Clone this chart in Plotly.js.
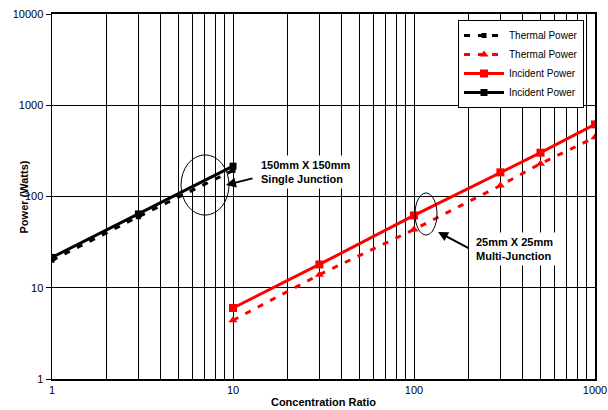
<!DOCTYPE html>
<html>
<head>
<meta charset="utf-8">
<script src="https://cdn.plot.ly/plotly-3.0.1.min.js"></script>
<style>html,body{margin:0;padding:0;background:#fff;}#chart{width:608px;height:410px;}</style>
</head>
<body>
<div id="chart"></div>
<script>
// Data
const blackX = [1, 3, 10];
const blackIncident = [21.5, 64.5, 215];
const blackThermal = [20, 60, 193];
const redX = [10, 30, 100, 300, 500, 1000];
const redIncident = [6, 18, 62, 184, 302, 617];
const redThermal = [4.4, 13.9, 43.5, 132, 229, 445];
const xTickVals = [1, 10, 100, 1000];
const xTickText = ['1', '10', '100', '1000'];
const yTickVals = [1, 10, 100, 1000, 10000];
const yTickText = ['1', '10', '100', '1000', '10000'];

const minorX = [];
for (let d = 1; d < 1000; d *= 10) for (let k = 2; k <= 9; k++) minorX.push(k * d);

const FONT = 'Arial, "Liberation Sans", sans-serif';

const traces = [
  {x: blackX, y: blackThermal, name: 'Thermal Power', mode: 'lines+markers',
   line: {color: '#000', width: 3, dash: '6px,8px'},
   marker: {symbol: 'square', size: 5, color: '#000'}},
  {x: redX, y: redThermal, name: 'Thermal Power', mode: 'lines+markers',
   line: {color: '#ff0000', width: 3, dash: '6px,8px'},
   marker: {symbol: 'triangle-up', size: 8, color: '#ff0000'}},
  {x: redX, y: redIncident, name: 'Incident Power', mode: 'lines+markers',
   line: {color: '#ff0000', width: 3},
   marker: {symbol: 'square', size: 8, color: '#ff0000'}},
  {x: blackX, y: blackIncident, name: 'Incident Power', mode: 'lines+markers',
   line: {color: '#000', width: 3},
   marker: {symbol: 'square', size: 7, color: '#000'}}
];

const layout = {
  width: 608, height: 410,
  margin: {l: 52, r: 13, t: 14, b: 31},
  paper_bgcolor: '#fff', plot_bgcolor: '#fff',
  font: {family: FONT, size: 11, color: '#000'},
  showlegend: true,
  legend: {x: 0.7477, y: 0.9836, xanchor: 'left', yanchor: 'top',
    bgcolor: '#fff', bordercolor: '#000', borderwidth: 1, itemwidth: 40,
    font: {family: FONT, size: 10, color: '#000'}, tracegroupgap: 0},
  xaxis: {type: 'log', range: [0, 3], tickmode: 'array', tickvals: xTickVals, ticktext: xTickText,
    showgrid: true, gridcolor: '#000', gridwidth: 1,
    minor: {tickmode: 'array', tickvals: minorX, showgrid: true, gridcolor: '#000', gridwidth: 1, ticks: ''},
    showline: true, linecolor: '#000', linewidth: 2, mirror: true, ticks: '', zeroline: false,
    tickfont: {family: FONT, size: 11, color: '#000'},
    title: {text: '<b>Concentration Ratio</b>', font: {family: FONT, size: 11, color: '#000'}, standoff: 3}},
  yaxis: {type: 'log', range: [0, 4], tickmode: 'array', tickvals: yTickVals, ticktext: yTickText,
    showgrid: true, gridcolor: '#000', gridwidth: 1,
    showline: true, linecolor: '#000', linewidth: 1.5, mirror: true, ticks: 'outside', ticklen: 5, tickcolor: '#000',
    zeroline: false,
    tickfont: {family: FONT, size: 11, color: '#000'}},
  shapes: [
    {type: 'circle', xref: 'paper', yref: 'paper', x0: 0.2376, x1: 0.326, y0: 0.449, y1: 0.614,
     line: {color: '#000', width: 1}},
    {type: 'circle', xref: 'paper', yref: 'paper', x0: 0.6685, x1: 0.709, y0: 0.3945, y1: 0.5096,
     line: {color: '#000', width: 1}}
  ],
  annotations: [
    {xref: 'paper', yref: 'paper', x: -0.0516, y: 0.5, xanchor: 'center', yanchor: 'middle', textangle: -90,
     text: '<b>Power (Watts)</b>', showarrow: false, font: {family: FONT, size: 11, color: '#000'}},
    {xref: 'paper', yref: 'paper', x: 0.3775, y: 0.567, xanchor: 'left', yanchor: 'middle', align: 'left',
     text: '<b>150mm X 150mm</b><br><b>Single Junction</b>', showarrow: false, bgcolor: '#fff',
     font: {family: FONT, size: 11, color: '#000'}, borderpad: 3},
    {xref: 'paper', yref: 'paper', x: 0.7735, y: 0.356, xanchor: 'left', yanchor: 'middle', align: 'left',
     text: '<b>25mm X 25mm</b><br><b>Multi-Junction</b>', showarrow: false, bgcolor: '#fff',
     font: {family: FONT, size: 11, color: '#000'}, borderpad: 3},
    {xref: 'paper', yref: 'paper', x: 0.3204, y: 0.5315, text: '', showarrow: true,
     ax: 28, ay: -7, arrowhead: 2, arrowsize: 1, arrowwidth: 2, arrowcolor: '#000'},
    {xref: 'paper', yref: 'paper', x: 0.7109, y: 0.4027, text: '', showarrow: true,
     ax: 32, ay: 17, arrowhead: 2, arrowsize: 1, arrowwidth: 2, arrowcolor: '#000'}
  ]
};

Plotly.newPlot('chart', traces, layout, {displayModeBar: false, staticPlot: true});
</script>
</body>
</html>
